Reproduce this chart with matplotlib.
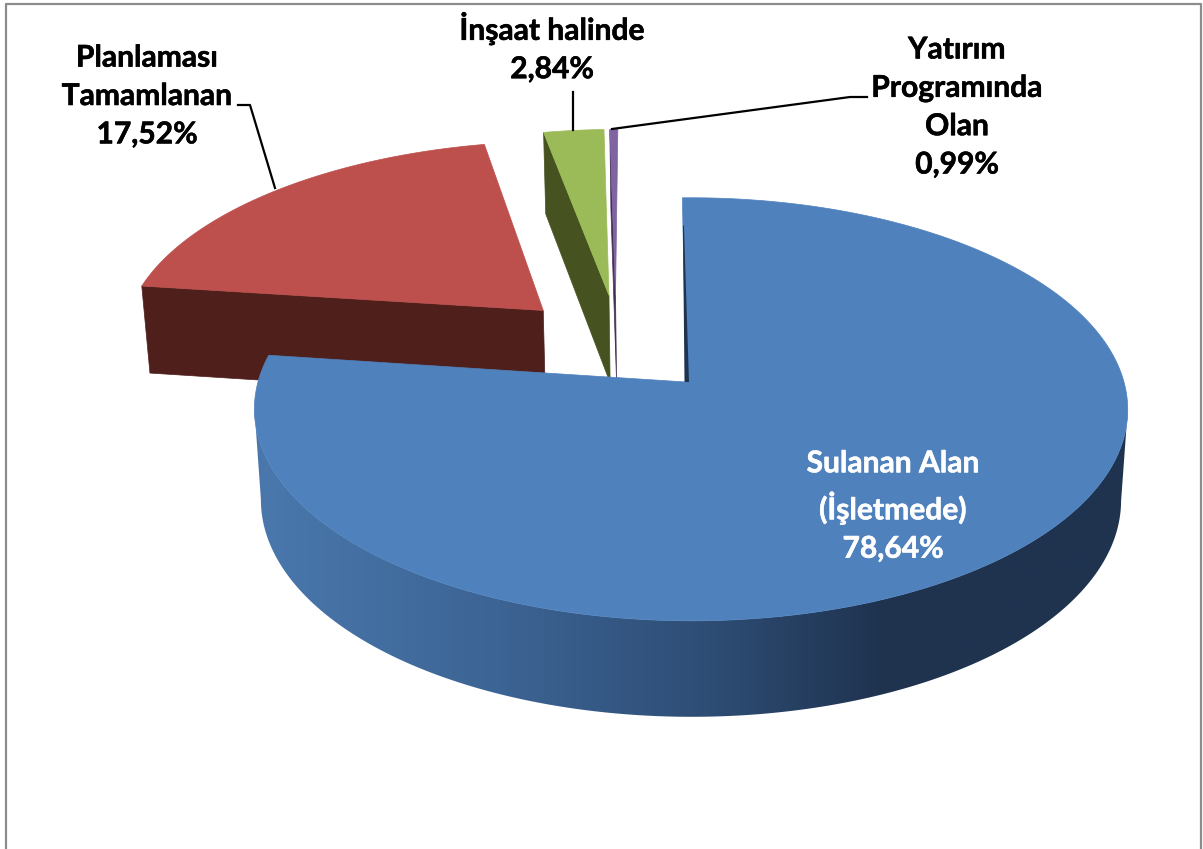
import numpy as np
import matplotlib
matplotlib.use("Agg")
import matplotlib.pyplot as plt
import matplotlib.patheffects as pe
from matplotlib.colors import LinearSegmentedColormap
from matplotlib.patches import Polygon

plt.rcParams['font.family'] = ['Lato', 'DejaVu Sans']

# labels and percentages printed on the chart
names = ["Sulanan Alan\n(İşletmede)", "Planlaması\nTamamlanan", "İnşaat halinde", "Yatırım\nProgramında\nOlan"]
values = [78.64, 17.52, 2.84, 0.99]
# the slices as they are actually drawn in the picture (differs a bit from the printed numbers)
drawn_shares = [77.42, 19.69, 2.64, 0.35]

top_colors = ["#4f81bd", "#bd504d", "#9bbb59", "#8064a2"]
side_colors = ["#1f334f", "#4f1f1c", "#46521f", "#403152"]

# perspective of the pie plane
CX, CY = 686, 382
A, B, K = 208, 433, 0.129
start_angle = -1.2
rim_shift = [(0.0115, 0), (-0.345, 0.36), (-0.188, 0.44), (-0.172, 0.44)]
apex_shift = [(0, 0), (-0.345, 0.36), (-0.188, 0.44), (-0.172, 0.44)]


def project(u, v):
    w = 1 + K * v
    return CX + B * u / w, CY - A * v / w


def drop(u, v):
    # same plane point on the bottom of the pie
    x, y = project(u, v)
    return CX + (x - CX) * 0.985, y + 90 - 6 * v


def rim(i, a0, a1, n=200):
    ang = np.radians(np.linspace(a0, a1, n))
    return rim_shift[i][0] + np.sin(ang), rim_shift[i][1] + np.cos(ang)


fig = plt.figure(figsize=(12.03, 8.49), dpi=100)
ax = fig.add_axes([0, 0, 1, 1])
ax.axis("off")

# chart frame, bottom edge is cut off
ax.plot([6, 6, 1201, 1201], [849, 4, 4, 849], color="#8c8c8c", lw=1.6)

edges = start_angle + np.concatenate([[0], np.cumsum(drawn_shares)]) * 3.6

# exploded slices first, they sit behind the big one
for i in [1, 2, 3]:
    a0, a1 = edges[i], edges[i + 1]
    au, av = apex_shift[i]
    cu = rim_shift[i][0] + np.sin(np.radians(a0))
    cv = rim_shift[i][1] + np.cos(np.radians(a0))
    wall = [project(cu, cv), drop(cu, cv), drop(au, av), project(au, av)]
    ax.fill(*zip(*wall), color=side_colors[i], lw=0.5)
    ru, rv = rim(i, a0, a1)
    px, py = project(ru, rv)
    ax_, ay_ = project(au, av)
    ax.fill(np.append(px, ax_), np.append(py, ay_), color=top_colors[i], lw=0.5)

# side of big slice, gradient left to right clipped to its outline
side_cmap = LinearSegmentedColormap.from_list(
    "side", [(0, "#4a78ad"), (0.28, "#3c6494"), (0.52, "#2e4d75"), (0.72, "#1f334f"), (1, "#1f334f")])
ru, rv = rim(0, 60, edges[1], 400)
tx, ty = project(ru, rv)
bx, by = drop(ru, rv)
# only between the widest points, so the outer edges run straight down
i0, i1 = np.argmax(tx), np.argmin(tx)
outline = np.column_stack([np.r_[tx[i0:i1 + 1], bx[i0:i1 + 1][::-1]],
                           np.r_[ty[i0:i1 + 1], by[i0:i1 + 1][::-1]]])
side_patch = Polygon(outline, closed=True, facecolor="none", edgecolor="none")
ax.add_patch(side_patch)
grad = np.linspace(0, 1, 900).reshape(1, -1)
im = ax.imshow(grad, cmap=side_cmap, extent=(254, 1128, 740, 380), aspect="auto")
im.set_clip_path(side_patch)

# top of big slice
ru, rv = rim(0, edges[0], edges[1], 500)
px, py = project(ru, rv)
ox, oy = project(*apex_shift[0])
ax.fill(np.append(px, ox), np.append(py, oy), color=top_colors[0], lw=0.5)

# thin dark wall along the cut of the big slice
cx0, cy0 = px[0], py[0]
mx, my = cx0 + (ox - cx0) * 0.15, cy0 + (oy - cy0) * 0.15
ax.fill([mx, ox - 1.5, ox + 3, mx + 1], [my, oy, oy, my], color=side_colors[0], lw=0)

# leader lines
ax.plot([238, 250, 275], [105, 105, 188], color="black", lw=1.6)
ax.plot([573, 573], [92, 130], color="black", lw=1.6)
ax.plot([867, 850, 612], [97, 97, 129], color="black", lw=1.6)

# labels
label_pos = [(893, 506), (147, 96), (552, 47), (957, 107)]
label_colors = ["white", "black", "black", "black"]
for name, val, pos, c in zip(names, values, label_pos, label_colors):
    txt = name + "\n" + f"{val:.2f}".replace(".", ",") + "%"
    t = ax.text(pos[0], pos[1], txt, ha="center", va="center", color=c,
                fontsize=21.6, fontweight="bold", linespacing=1.45)
    t.set_path_effects([pe.withStroke(linewidth=0.4, foreground=c)])

ax.set_xlim(0, 1203)
ax.set_ylim(849, 0)

fig.savefig("out.png", dpi=100)
